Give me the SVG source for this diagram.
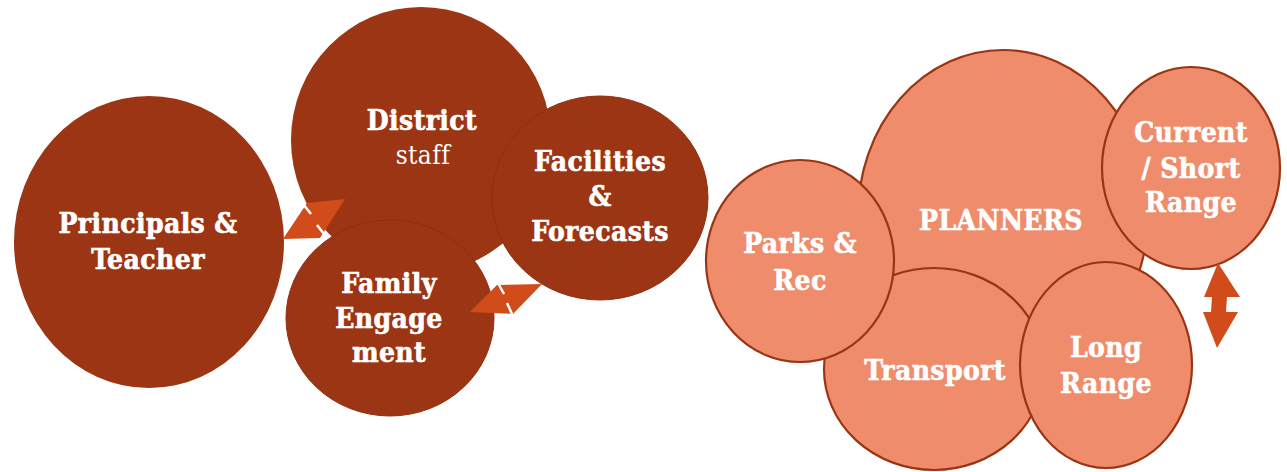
<svg xmlns="http://www.w3.org/2000/svg" width="1287" height="472" viewBox="0 0 1287 472">
<style>
.dk{fill:#9C3513;}
.lt{fill:#EE8C6B;stroke:#9A3412;stroke-width:2.2;}
.t{font-family:"DejaVu Serif Condensed","DejaVu Serif",serif;font-weight:bold;font-size:28px;fill:#fff;stroke:#fff;stroke-width:0.6;text-anchor:middle;letter-spacing:0.4px;}
.r{font-weight:normal;font-size:26px;stroke-width:0;}
.ar{fill:#D24C1B;}
.wl{stroke:#fff;stroke-width:2.5;fill:none;}
</style>
<rect width="1287" height="472" fill="#fff"/>
<g id="principals"><ellipse class="dk" cx="149" cy="242" rx="135" ry="146"/>
<text class="t" x="148" y="233">Principals &amp;</text><text class="t" x="148" y="269">Teacher</text></g>
<g id="district"><ellipse class="dk" cx="421" cy="140" rx="130" ry="133"/>
<text class="t" x="422" y="130">District</text><text class="t r" x="423" y="164">staff</text></g>
<g id="family"><ellipse class="dk" cx="390" cy="318" rx="104" ry="98" stroke="#8E2F10" stroke-width="1"/>
<text class="t" x="389" y="293">Family</text><text class="t" x="389" y="328">Engage</text><text class="t" x="389" y="362">ment</text></g>
<g id="facilities"><ellipse class="dk" cx="600" cy="198" rx="108" ry="102" stroke="#8E2F10" stroke-width="1"/>
<text class="t" x="600" y="171">Facilities</text><text class="t" x="600" y="206">&amp;</text><text class="t" x="600" y="241">Forecasts</text></g>
<g id="planners"><ellipse class="lt" cx="1003" cy="215" rx="145" ry="165"/>
<text class="t" x="1001" y="230">PLANNERS</text></g>
<g id="current"><ellipse class="lt" cx="1191" cy="168" rx="89" ry="101"/>
<text class="t" x="1191" y="142">Current</text><text class="t" x="1191" y="178">/ Short</text><text class="t" x="1191" y="212">Range</text></g>
<g id="transport"><ellipse class="lt" cx="934" cy="369" rx="110" ry="101"/>
<text class="t" x="935" y="380">Transport</text></g>
<g id="parks"><ellipse class="lt" cx="800" cy="261" rx="94" ry="101"/>
<text class="t" x="800" y="253">Parks &amp;</text><text class="t" x="800" y="290">Rec</text></g>
<g id="longrange"><ellipse class="lt" cx="1106" cy="365" rx="86" ry="103"/>
<text class="t" x="1106" y="357">Long</text><text class="t" x="1106" y="393">Range</text></g>
<g id="connectors">
<polygon class="ar" points="283,239 307,203 345,199 320,238"/>
<line class="wl" x1="303" y1="204" x2="311" y2="214"/><line class="wl" x1="317" y1="225" x2="324" y2="234"/>
<polygon class="ar" points="470,312 497,285 542,284 513,314"/>
<line class="wl" x1="498" y1="283" x2="504" y2="294"/><line class="wl" x1="507" y1="303" x2="512" y2="314"/>
<polygon class="ar" points="1218,263 1240,297 1227,297 1226,312 1238,312 1217,348 1203,312 1211,312 1212,297 1204,297"/>
</g>
</svg>
